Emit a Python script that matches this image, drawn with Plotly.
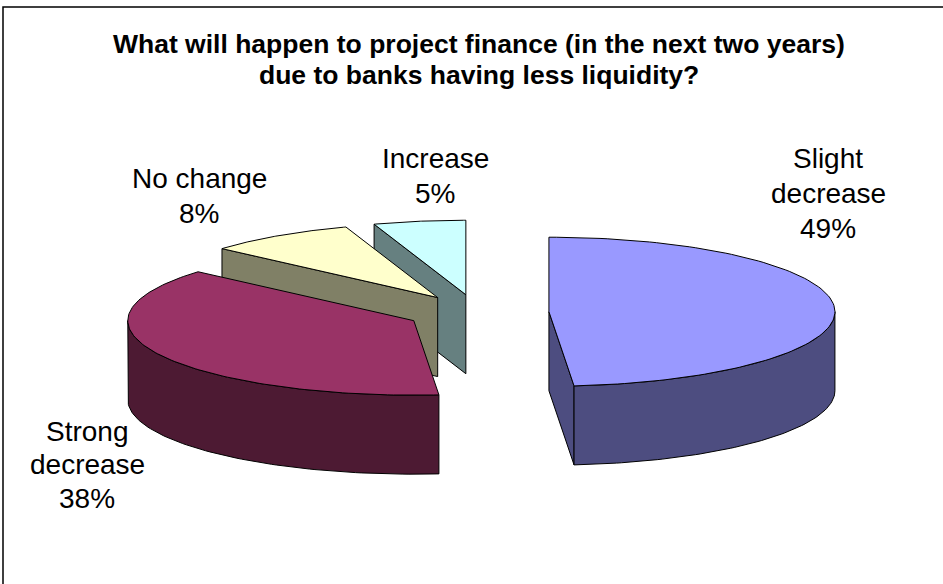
import numpy as np
import plotly.graph_objects as go

# Data
categories = ["Slight decrease", "Strong decrease", "No change", "Increase"]
values = [48.6, 37.8, 8.4, 5.2]
label_lines = [["Slight", "decrease"], ["Strong", "decrease"], ["No change"], ["Increase"]]
title_lines = ["What will happen to project finance (in the next two years)",
               "due to banks having less liquidity?"]
top_colors = ["#9999FF", "#993366", "#FFFFCC", "#CCFFFF"]
side_colors = ["#4D4D80", "#4D1A33", "#808066", "#668080"]

# Projection of the tilted pie onto the page
CX, CY = 477.5, 312.5
RX, RY = 286, 74.5
EX, EY = 71.5, 18
DEPTH = 79
FONT = "Liberation Sans, Arial, sans-serif"
label_centres = [(828, (158, 193, 228)), (87, (431, 464, 498)),
                 (199, (178, 213)), (435, (158, 193))]

def rim(deg):
    a = np.radians(deg)
    return np.sin(a) * RX, -np.cos(a) * RY

fig = go.Figure()

def poly(x, y, colour):
    fig.add_trace(go.Scatter(x=list(x) + [x[0]], y=list(y) + [y[0]], mode="lines", fill="toself",
                             fillcolor=colour, line=dict(color="black", width=1),
                             hoverinfo="skip", showlegend=False))

total = sum(values)
bounds = np.concatenate([[0], np.cumsum(values) / total * 360])

# Paint from back to front
for i in reversed(range(len(values))):
    start, end = bounds[i], bounds[i + 1]
    mid = np.radians((start + end) / 2)
    ax, ay = CX + EX * np.sin(mid), CY - EY * np.cos(mid)

    # Flat cut faces that look toward the viewer
    for edge, visible in ((start, 180 < start < 360), (end, 0 < end < 180)):
        if visible:
            dx, dy = rim(edge)
            poly([ax, ax + dx, ax + dx, ax], [ay, ay + dy, ay + dy + DEPTH, ay + DEPTH], side_colors[i])

    # Outer curved wall
    lo, hi = max(start, 90), min(end, 270)
    if lo < hi:
        t = np.linspace(lo, hi, 80)
        dx, dy = rim(t)
        poly(np.r_[ax + dx, (ax + dx)[::-1]], np.r_[ay + dy, (ay + dy + DEPTH)[::-1]], side_colors[i])

    # Top surface
    t = np.linspace(start, end, 120)
    dx, dy = rim(t)
    poly(np.r_[ax, ax + dx], np.r_[ay, ay + dy], top_colors[i])

annotations = []
def text(x, y, s, size, bold=False):
    annotations.append(dict(x=x, y=y, xref="x", yref="y", text=f"<b>{s}</b>" if bold else s,
                            showarrow=False, xanchor="center", yanchor="middle",
                            font=dict(family=FONT, size=size, color="black")))

for line, y in zip(title_lines, (44, 75)):
    text(479, y, line, 26.5, bold=True)

for lines, v, (x, ys) in zip(label_lines, values, label_centres):
    for s, y in zip(lines + [f"{round(v)}%"], ys):
        text(x, y, s, 28)

fig.update_layout(
    width=943, height=584, margin=dict(l=0, r=0, t=0, b=0),
    paper_bgcolor="white", plot_bgcolor="white", showlegend=False,
    xaxis=dict(range=[0, 943], visible=False, fixedrange=True),
    yaxis=dict(range=[584, 0], visible=False, fixedrange=True),
    annotations=annotations,
    shapes=[dict(type="rect", xref="x", yref="y", x0=3, y0=7, x1=1000, y1=700,
                 line=dict(color="black", width=1.5), layer="below")],
)
fig.write_html("out.html", config=dict(displayModeBar=False),
               post_script="document.body.style.margin='0';document.body.style.overflow='hidden';")
